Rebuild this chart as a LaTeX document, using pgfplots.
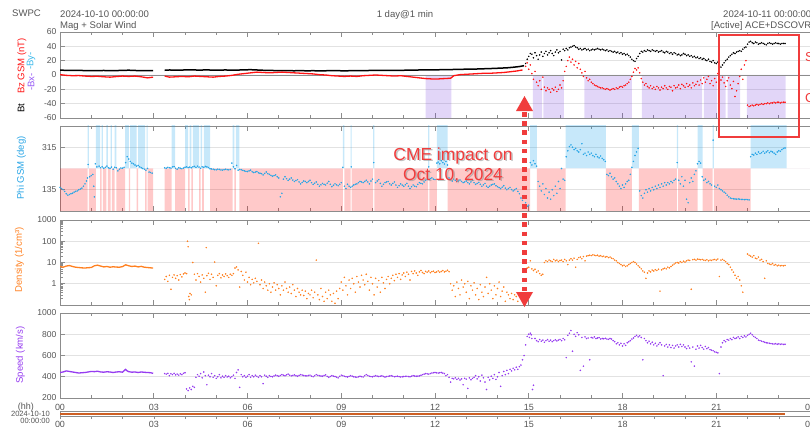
\documentclass[border=0pt]{standalone}
\usepackage{fontspec}
\setmainfont{Liberation Sans}
\usepackage{pgfplots}
\pgfplotsset{compat=1.18}
\definecolor{tickgray}{RGB}{85,85,85}
\definecolor{framegray}{RGB}{140,140,140}
\definecolor{gridgray}{RGB}{226,226,226}
\definecolor{bzred}{RGB}{255,20,20}
\definecolor{phiblue}{RGB}{40,165,230}
\definecolor{byblue}{RGB}{60,185,235}
\definecolor{bxpurple}{RGB}{150,90,245}
\definecolor{denorange}{RGB}{255,128,32}
\definecolor{spdpurple}{RGB}{150,60,240}
\definecolor{shpurple}{RGB}{125,70,225}
\definecolor{shblue}{RGB}{20,160,235}
\definecolor{shred}{RGB}{255,0,0}
\definecolor{annred}{RGB}{240,60,60}
\definecolor{tlorange}{RGB}{205,95,35}
\newcommand{\tf}{\fontsize{9.6}{11}\selectfont}
\pgfplotsset{
  panel/.style={
    scale only axis, width=750bp,
    xmin=0, xmax=24,
    xtick={0,3,...,24}, minor xtick={0,1,...,24},
    xticklabels={},
    xtick pos=both, ytick pos=left,
    tick align=inside,
    major tick length=5bp, minor tick length=3bp,
    tick style={framegray, line width=0.6bp},
    axis line style={framegray, line width=0.9bp},
    ymajorgrids, grid style={gridgray, line width=0.6bp},
    ticklabel style={font=\fontsize{8.6}{10}\selectfont, text=tickgray},
  },
  scat/.style={only marks, mark=*, mark size=0.55pt},
}
\begin{document}
\begin{tikzpicture}[x=1bp,y=1bp]
\useasboundingbox (0,0) rectangle (810,426);

% ---------------- Panel 1: Bt / Bz ----------------
\begin{axis}[panel, at={(60bp,308bp)}, anchor=south west, height=86bp,
  ymin=-60, ymax=60, ytick={-60,-40,-20,0,20,40,60},
  yticklabels={-60,-40,-20,0,20,40,60}]
\addplot[const plot, draw=none, fill=shpurple, fill opacity=0.22] coordinates {
(0,0) (11.70,-70) (12.52,0) (15.13,-70) (15.43,0) (15.47,-70) (16.12,0) (16.78,-70) (18.30,0)
(18.62,-70) (20.55,0) (20.60,-70) (21.02,0) (21.07,-70) (21.30,0) (21.36,-70) (21.76,0) (21.98,-70) (23.22,0) (24,0)};
\addplot[framegray, line width=0.8bp] coordinates {(0,0) (24,0)};
% Bt
\addplot[black, line width=1.5bp] coordinates {
(0,6.8)(0.2,6.5)(0.4,6.3)(0.6,6.4)(0.8,6.2)(1.0,6.0)(1.2,6.1)(1.4,6.3)(1.6,6.0)(1.8,6.2)(2.0,6.4)(2.2,6.7)(2.4,6.3)(2.6,6.1)(2.8,6.2)(2.98,6.0)};
\addplot[black, line width=1.5bp] coordinates {
(3.35,6.6)(3.5,7.0)(3.7,6.8)(3.9,6.9)(4.1,7.2)(4.3,7.0)(4.5,6.9)(4.7,7.1)(4.9,6.8)(5.1,6.9)(5.3,7.0)(5.5,6.8)(5.7,6.9)(5.9,7.2)(6.1,7.4)(6.3,7.0)(6.5,6.6)(6.7,6.4)(6.9,6.2)(7.1,6.1)(7.3,6.0)(7.5,5.9)(7.7,6.1)(7.9,5.8)(8.1,6.0)(8.3,5.7)(8.5,5.9)(8.7,6.1)(8.9,6.0)(9.1,5.8)(9.3,6.0)(9.5,6.2)(9.7,6.1)(9.9,6.3)(10.1,6.4)(10.3,6.3)(10.5,6.5)(10.7,6.6)(10.9,6.5)(11.1,6.7)(11.3,6.8)(11.5,7.0)(11.7,7.2)(11.9,7.1)(12.1,7.3)(12.3,7.4)(12.5,7.6)(12.7,7.8)(12.9,8.0)(13.1,8.2)(13.3,8.3)(13.5,8.6)(13.7,8.9)(13.9,9.2)(14.1,9.6)(14.3,10.0)(14.5,10.8)(14.7,11.8)(14.85,13)};
\addplot[scat, black] coordinates {
(14.9,16)(14.95,22)(15.0,26)(15.05,30)(15.1,29)(15.15,24)(15.2,31)(15.25,27)(15.3,22)(15.35,28)(15.4,32)(15.45,26)(15.5,30)(15.55,33)(15.6,28)(15.65,31)(15.7,34)(15.75,30)(15.8,27)(15.85,32)(15.9,35)(15.95,31)(16.0,33)(16.05,21)(16.1,36)(16.15,34)(16.2,37)(16.25,35)(16.3,38)(16.35,39)(16.4,40)(16.45,41)(16.5,39)(16.55,38)(16.6,36)(16.65,37)(16.7,35)(16.75,36)(16.8,37)(16.85,35)(16.9,36)(16.95,34)(17.0,35)(17.05,36)(17.1,35)(17.15,36)(17.2,37)(17.25,36)(17.3,35)(17.35,36)(17.4,35)(17.45,34)(17.5,35)(17.55,33)(17.6,34)(17.65,33)(17.7,32)(17.75,33)(17.8,31)(17.85,32)(17.9,30)(17.95,31)(18.0,29)(18.05,30)(18.1,28)(18.15,29)(18.2,27)(18.25,25)(18.3,22)(18.35,20)(18.4,19)(18.45,23)(18.5,26)(18.55,30)(18.6,33)(18.65,32)(18.7,34)(18.75,33)(18.8,35)(18.85,34)(18.9,33)(18.95,35)(19.0,34)(19.05,33)(19.1,34)(19.15,32)(19.2,33)(19.25,34)(19.3,32)(19.35,31)(19.4,33)(19.45,32)(19.5,30)(19.55,31)(19.6,29)(19.65,31)(19.7,30)(19.75,28)(19.8,29)(19.85,27)(19.9,28)(19.95,30)(20.0,29)(20.05,27)(20.1,28)(20.15,26)(20.2,27)(20.25,25)(20.3,26)(20.35,24)(20.4,25)(20.45,23)(20.5,24)(20.55,22)(20.6,23)(20.65,21)(20.7,20)(20.75,22)(20.8,19)(20.85,18)(20.9,20)(20.95,17)(21.0,16)(21.05,18)(21.1,13)(21.15,11)(21.2,14)(21.25,17)(21.3,20)(21.35,22)(21.4,25)(21.45,27)(21.5,29)(21.55,31)(21.6,30)(21.65,32)(21.7,33)(21.75,34)(21.8,33)(21.85,36)(21.9,38)(21.95,39)(22.0,43)(22.05,46)(22.1,47)(22.15,45)(22.2,44)(22.25,46)(22.3,45)(22.35,43)(22.4,44)(22.45,45)(22.5,44)(22.55,43)(22.6,42)(22.65,44)(22.7,45)(22.75,44)(22.8,43)(22.85,44)(22.9,45)(22.95,44)(23.0,44)(23.05,43)(23.1,44)(23.15,44)(23.2,44)};
% Bz
\addplot[bzred, line width=1.3bp] coordinates {
(0.0,0.5)(0.2,-0.5)(0.4,-1)(0.6,-0.8)(0.8,-1.5)(1.0,-2)(1.2,-1.8)(1.4,-2.5)(1.6,-3)(1.8,-2.2)(2.0,-1.5)(2.2,-2.0)(2.4,-1.5)(2.6,-2.5)(2.8,-4)(2.98,-3)};
\addplot[bzred, line width=1.3bp] coordinates {
(3.35,-1.5)(3.5,-3)(3.7,-2.5)(3.9,-2)(4.1,-2.5)(4.3,-1.5)(4.5,-2)(4.7,-2.5)(4.9,-3)(5.1,-2)(5.3,-1.5)(5.5,-0.5)(5.7,1)(5.9,2)(6.1,3)(6.3,4)(6.5,3.5)(6.7,3)(6.9,3.5)(7.1,4)(7.3,3.5)(7.5,3)(7.7,2.5)(7.9,2)(8.1,1.5)(8.3,0.5)(8.5,0)(8.7,-1)(8.9,-1.5)(9.1,-2)(9.3,-1.5)(9.5,-2)(9.7,-1)(9.9,-0.5)(10.1,0)(10.3,-0.5)(10.5,-1)(10.7,-1.5)(10.9,-1)(11.1,-2)(11.3,-3)(11.5,-4)(11.7,-5)(11.9,-5.5)(12.1,-5.5)(12.3,-5)(12.5,-4.5)(12.6,-1)(12.8,0.5)(13.0,1)(13.2,1.5)(13.4,2)(13.6,2.5)(13.8,2.5)(14.0,3)(14.2,3.5)(14.4,4.5)(14.6,5.5)(14.8,7)};
\addplot[scat, bzred] coordinates {
(14.9,12)(14.95,17)(15.0,8)(15.05,14)(15.1,2)(15.15,-6)(15.2,5)(15.25,-10)(15.3,-15)(15.35,-8)(15.4,-20)(15.45,-3)(15.5,-17)(15.55,-22)(15.6,-18)(15.65,-20)(15.7,-24)(15.75,-19)(15.8,-21)(15.85,-17)(15.9,-23)(15.95,-20)(16.0,-14)(16.05,-18)(16.1,-8)(16.15,5)(16.2,12)(16.25,20)(16.3,25)(16.35,18)(16.4,22)(16.45,14)(16.5,19)(16.55,10)(16.6,16)(16.65,8)(16.7,3)(16.75,-2)(16.8,5)(16.85,-4)(16.9,-8)(16.95,-6)(17.0,-10)(17.05,-12)(17.1,-14)(17.15,-15)(17.2,-16)(17.25,-17)(17.3,-18)(17.35,-18)(17.4,-19)(17.45,-20)(17.5,-19)(17.55,-20)(17.6,-21)(17.65,-20)(17.7,-19)(17.75,-20)(17.8,-18)(17.85,-19)(17.9,-17)(17.95,-16)(18.0,-17)(18.05,-15)(18.1,-14)(18.15,-12)(18.2,-10)(18.25,-6)(18.3,-2)(18.35,4)(18.4,9)(18.45,7)(18.5,10)(18.55,3)(18.6,-5)(18.65,-10)(18.7,-14)(18.75,-12)(18.8,-16)(18.85,-18)(18.9,-15)(18.95,-19)(19.0,-17)(19.05,-20)(19.1,-16)(19.15,-18)(19.2,-21)(19.25,-17)(19.3,-19)(19.35,-15)(19.4,-18)(19.45,-20)(19.5,-16)(19.55,-17)(19.6,-22)(19.65,-15)(19.7,-18)(19.75,-17)(19.8,-14)(19.85,-19)(19.9,-13)(19.95,-15)(20.0,-17)(20.05,-12)(20.1,-16)(20.15,-14)(20.2,-18)(20.25,-11)(20.3,-15)(20.35,-13)(20.4,-9)(20.45,-14)(20.5,-7)(20.55,-12)(20.6,-4)(20.65,-10)(20.7,-6)(20.75,-2)(20.8,-12)(20.85,-8)(20.9,-15)(20.95,-5)(21.0,-10)(21.05,2)(21.1,-13)(21.15,-7)(21.2,-3)(21.25,-11)(21.3,-16)(21.35,-8)(21.4,-4)(21.45,-14)(21.5,-19)(21.55,-9)(21.6,-30)(21.65,-22)(21.7,-12)(21.75,-2)(21.8,8)(21.85,-6)(21.9,14)(21.95,20)(22.0,-42)(22.05,-44)(22.1,-43)(22.15,-42)(22.2,-43)(22.25,-42)(22.3,-41)(22.35,-42)(22.4,-41)(22.45,-40)(22.5,-41)(22.55,-40)(22.6,-40)(22.65,-39)(22.7,-40)(22.75,-39)(22.8,-39)(22.85,-38)(22.9,-39)(22.95,-38)(23.0,-38)(23.05,-39)(23.1,-38)(23.15,-38)(23.2,-38)};
\end{axis}

% ---------------- Panel 2: Phi ----------------
\begin{axis}[panel, at={(60bp,215bp)}, anchor=south west, height=85bp,
  ymin=45, ymax=405, ytick={135,315}, yticklabels={135,315}]
\addplot[const plot, draw=none, fill=shred, fill opacity=0.21] coordinates {
(0,225)(0,30)(0.88,225)(0.92,30)(1.15,225)(1.28,30)(1.33,225)(1.37,30)(1.48,225)(1.53,30)(1.62,225)(1.66,30)(1.75,225)(1.8,30)(2.08,225)(2.2,30)(2.24,225)(2.45,30)(2.5,225)(2.72,30)(2.77,225)(2.8,30)(2.98,225)
(3.35,30)(3.57,225)(3.68,30)(4.0,225)(4.1,30)(4.15,225)(4.2,30)(4.25,225)(4.45,30)(4.5,225)(4.55,30)(4.6,225)(4.8,30)(5.52,225)(5.58,30)(5.63,225)(5.74,30)(9.05,225)(9.1,30)(9.3,225)(9.33,30)(10.02,225)(10.06,30)(11.78,225)(11.82,30)(12.06,225)(12.4,30)(15.04,225)(15.26,30)(16.18,225)(17.47,30)(18.3,225)(18.52,30)(19.74,225)(19.78,30)(20.4,225)(20.56,30)(20.88,225)(20.92,30)(22.1,225)(24,225)};
\addplot[const plot, draw=none, fill=shblue, fill opacity=0.24] coordinates {
(0,225)(0.88,420)(0.92,225)(1.15,420)(1.28,225)(1.33,420)(1.37,225)(1.48,420)(1.53,225)(1.62,420)(1.66,225)(1.75,420)(1.8,225)(2.08,420)(2.2,225)(2.24,420)(2.45,225)(2.5,420)(2.72,225)(2.77,420)(2.8,225)
(3.57,420)(3.68,225)(4.0,420)(4.1,225)(4.15,420)(4.2,225)(4.25,420)(4.45,225)(4.5,420)(4.55,225)(4.6,420)(4.8,225)(5.52,420)(5.58,225)(5.63,420)(5.74,225)(9.05,420)(9.1,225)(9.3,420)(9.33,225)(10.02,420)(10.06,225)(11.78,420)(11.82,225)(12.06,420)(12.4,225)(15.04,420)(15.26,225)(16.18,420)(17.47,225)(18.3,420)(18.52,225)(19.74,420)(19.78,225)(20.4,420)(20.56,225)(20.88,420)(20.92,225)(22.1,420)(23.25,225)(24,225)};
\addplot[scat, phiblue] coordinates {
(0.0,145)(0.05,140)(0.1,135)(0.15,128)(0.2,118)(0.25,112)(0.3,115)(0.35,118)(0.4,120)(0.45,125)(0.5,128)(0.55,130)(0.6,135)(0.65,138)(0.7,142)(0.75,150)(0.8,160)(0.85,172)(0.88,185)(0.9,242)(0.95,190)(1.0,195)(1.05,200)(1.08,150)(1.1,105)(1.13,245)(1.18,232)(1.25,235)(1.3,228)(1.35,232)(1.4,226)(1.45,230)(1.5,235)(1.55,228)(1.6,226)(1.65,231)(1.7,222)(1.75,230)(1.8,228)(1.85,215)(1.9,222)(1.95,227)(2.0,226)(2.05,230)(2.1,250)(2.15,275)(2.2,265)(2.25,255)(2.3,248)(2.35,245)(2.4,240)(2.45,235)(2.5,238)(2.55,232)(2.6,228)(2.65,225)(2.7,222)(2.75,218)(2.8,225)(2.85,210)(2.9,208)(2.95,205)
(3.35,228)(3.4,226)(3.45,230)(3.5,228)(3.55,227)(3.6,232)(3.65,233)(3.7,226)(3.75,222)(3.8,228)(3.85,226)(3.9,224)(3.95,227)(4.0,230)(4.05,232)(4.1,229)(4.15,231)(4.2,228)(4.25,232)(4.3,234)(4.35,230)(4.4,235)(4.45,231)(4.5,226)(4.55,232)(4.6,230)(4.65,234)(4.7,232)(4.75,229)(4.8,224)(4.85,223)(4.9,222)(4.95,220)(5.0,219)(5.05,222)(5.1,221)(5.15,219)(5.2,218)(5.25,220)(5.3,222)(5.35,220)(5.4,219)(5.45,221)(5.5,248)(5.55,232)(5.6,224)(5.65,238)(5.7,218)(5.75,221)(5.8,220)(5.85,217)(5.9,215)(5.95,213)(6.0,212)(6.05,215)(6.1,218)(6.15,211)(6.2,208)(6.25,210)(6.3,212)(6.35,207)(6.4,205)(6.45,203)(6.5,198)(6.55,204)(6.6,210)(6.65,203)(6.7,200)(6.75,196)(6.8,192)(6.85,195)(6.9,198)(6.95,190)(7.0,185)(7.05,105)(7.1,120)(7.15,180)(7.2,190)(7.25,182)(7.3,175)(7.35,180)(7.4,185)(7.45,176)(7.5,170)(7.55,174)(7.6,178)(7.65,168)(7.7,160)(7.75,166)(7.8,172)(7.85,170)(7.9,165)(7.95,170)(8.0,175)(8.05,165)(8.1,158)(8.15,163)(8.2,168)(8.25,158)(8.3,150)(8.35,156)(8.4,162)(8.45,158)(8.5,155)(8.55,163)(8.6,170)(8.65,158)(8.7,148)(8.75,154)(8.8,160)(8.85,156)(8.9,152)(8.95,158)(9.0,165)(9.05,230)(9.1,150)(9.15,140)(9.2,158)(9.25,150)(9.3,145)(9.32,232)(9.35,150)(9.4,155)(9.45,158)(9.5,160)(9.55,165)(9.6,170)(9.65,168)(9.7,165)(9.75,170)(9.8,175)(9.85,168)(9.9,160)(9.95,172)(10.0,180)(10.04,250)(10.1,165)(10.15,172)(10.2,178)(10.25,162)(10.3,150)(10.35,158)(10.4,165)(10.45,168)(10.5,170)(10.55,160)(10.6,155)(10.65,162)(10.7,168)(10.75,155)(10.8,145)(10.85,152)(10.9,160)(10.95,155)(11.0,150)(11.05,156)(11.1,162)(11.15,150)(11.2,140)(11.25,148)(11.3,155)(11.35,150)(11.4,148)(11.45,158)(11.5,165)(11.55,162)(11.6,160)(11.65,168)(11.7,175)(11.75,178)(11.8,232)(11.85,182)(11.9,185)(11.95,180)(12.0,178)(12.06,248)(12.1,252)(12.15,245)(12.2,258)(12.25,250)(12.3,244)(12.35,255)(12.4,240)(12.45,185)(12.5,178)(12.55,172)(12.6,180)(12.65,175)(12.7,170)(12.75,172)(12.8,176)(12.85,170)(12.9,165)(12.95,168)(13.0,172)(13.05,165)(13.1,160)(13.15,168)(13.2,175)(13.25,165)(13.3,158)(13.35,162)(13.4,166)(13.45,158)(13.5,150)(13.55,156)(13.6,162)(13.65,150)(13.7,145)(13.75,150)(13.8,155)(13.85,158)(13.9,160)(13.95,152)(14.0,148)(14.05,144)(14.1,140)(14.15,146)(14.2,152)(14.25,142)(14.3,135)(14.35,140)(14.4,145)(14.45,136)(14.5,130)(14.55,135)(14.6,140)(14.65,128)(14.7,118)(14.75,100)(14.8,90)(14.85,110)(14.9,80)(14.95,65)(15.0,70)(15.05,250)(15.1,240)(15.15,258)(15.2,245)(15.25,235)(15.3,170)(15.35,150)(15.4,130)(15.45,160)(15.5,115)(15.55,140)(15.6,100)(15.65,125)(15.7,95)(15.75,135)(15.8,110)(15.85,150)(15.9,120)(15.95,170)(16.0,140)(16.05,225)(16.1,180)(16.15,175)
(16.2,275)(16.25,300)(16.3,318)(16.35,325)(16.4,315)(16.45,305)(16.5,310)(16.55,300)(16.6,295)(16.65,305)(16.7,330)(16.75,285)(16.8,290)(16.85,280)(16.9,295)(16.95,285)(17.0,290)(17.05,280)(17.1,275)(17.15,285)(17.2,275)(17.25,270)(17.3,278)(17.35,268)(17.4,262)(17.45,255)
(17.5,200)(17.55,195)(17.6,205)(17.65,190)(17.7,180)(17.75,185)(17.8,170)(17.85,160)(17.9,150)(17.95,140)(18.0,155)(18.05,145)(18.1,160)(18.15,170)(18.2,175)(18.25,200)(18.3,230)(18.35,255)(18.4,280)(18.45,295)(18.5,310)(18.55,130)(18.6,110)(18.65,100)(18.7,120)(18.75,135)(18.8,125)(18.85,140)(18.9,130)(18.95,145)(19.0,135)(19.05,150)(19.1,140)(19.15,155)(19.2,145)(19.25,160)(19.3,150)(19.35,165)(19.4,155)(19.45,165)(19.5,160)(19.55,170)(19.6,165)(19.65,175)(19.7,180)(19.75,250)(19.8,175)(19.85,160)(19.9,190)(19.95,150)(20.0,175)(20.05,95)(20.1,80)(20.15,165)(20.2,185)(20.25,170)(20.3,200)(20.35,215)(20.4,245)(20.45,255)(20.5,248)(20.55,190)(20.6,175)(20.65,180)(20.7,165)(20.75,170)(20.8,160)(20.85,155)(20.9,345)(20.95,150)(21.0,145)(21.05,155)(21.1,140)(21.15,135)(21.2,130)(21.25,125)(21.3,120)(21.35,112)(21.4,105)(21.45,100)(21.5,98)(21.55,97)(21.6,96)(21.65,95)(21.7,96)(21.75,95)(21.8,94)(21.85,94)(21.9,93)(21.95,94)(22.0,93)(22.05,92)
(22.1,275)(22.15,285)(22.2,282)(22.25,290)(22.3,285)(22.35,295)(22.4,288)(22.45,292)(22.5,298)(22.55,290)(22.6,295)(22.65,300)(22.7,292)(22.75,298)(22.8,295)(22.85,290)(22.9,285)(22.95,295)(23.0,300)(23.05,298)(23.1,305)(23.15,310)(23.2,312)};
\end{axis}

% ---------------- Panel 3: Density ----------------
\begin{axis}[panel, at={(60bp,121bp)}, anchor=south west, height=85bp,
  ymode=log, ymin=0.1, ymax=1000, ytick={1,10,100,1000}, yticklabels={1,10,100,1000},
  minor ytick={0.2,0.3,0.4,0.5,0.6,0.7,0.8,0.9,2,3,4,5,6,7,8,9,20,30,40,50,60,70,80,90,200,300,400,500,600,700,800,900}]
\addplot[denorange, line width=1.3bp] coordinates {
(0.0,6.5)(0.1,6.0)(0.2,6.8)(0.3,7.2)(0.4,6.5)(0.5,6.0)(0.6,5.8)(0.7,5.6)(0.8,5.5)(0.9,5.7)(1.0,5.8)(1.1,7.0)(1.2,7.5)(1.3,6.8)(1.4,6.2)(1.5,6.5)(1.6,6.0)(1.7,6.3)(1.8,6.1)(1.9,6.0)(2.0,6.4)(2.1,7.8)(2.2,7.0)(2.3,6.5)(2.4,6.8)(2.5,6.2)(2.6,6.6)(2.7,6.0)(2.8,5.8)(2.9,5.6)(2.98,5.5)};
\addplot[scat, denorange] coordinates {
(3.35,1.6)(3.4,2.2)(3.45,1.3)(3.5,2.5)(3.55,0.55)(3.6,2.0)(3.65,2.6)(3.7,1.8)(3.75,2.4)(3.8,1.5)(3.85,2.7)(3.9,2.1)(3.95,2.9)(4.0,3.2)(4.05,3.0)(4.08,100)(4.1,55)(4.12,0.25)(4.14,0.18)(4.16,0.35)(4.2,0.3)(4.25,10)(4.3,2.8)(4.35,1.5)(4.4,3.0)(4.45,2.2)(4.5,1.2)(4.55,2.6)(4.6,1.8)(4.65,0.4)(4.68,50)(4.7,2.4)(4.75,3.1)(4.8,1.6)(4.85,2.8)(4.9,2.0)(4.95,10.5)(5.0,0.8)(5.05,2.5)(5.1,3.0)(5.15,1.9)(5.2,2.6)(5.25,2.2)(5.3,2.9)(5.35,2.4)(5.4,2.0)(5.45,2.8)(5.5,2.5)(5.55,3.0)(5.6,5.5)(5.65,6.2)(5.7,4.5)(5.75,0.7)(5.8,3.8)(5.85,2.5)(5.9,1.5)(5.95,3.5)(6.0,1.2)(6.05,2.0)(6.1,0.9)(6.15,1.6)(6.2,1.1)(6.25,1.8)(6.3,1.3)(6.35,80)(6.4,0.9)(6.45,1.5)(6.5,0.6)(6.55,1.2)(6.6,0.8)(6.65,0.5)(6.7,1.0)(6.75,0.4)(6.8,0.7)(6.85,1.1)(6.9,0.5)(6.95,0.9)(7.0,0.6)(7.05,0.3)(7.1,0.8)(7.15,0.5)(7.2,1.2)(7.25,0.6)(7.3,0.4)(7.35,0.7)(7.4,0.35)(7.45,0.9)(7.5,0.5)(7.55,0.25)(7.6,0.6)(7.65,0.4)(7.7,0.3)(7.75,0.5)(7.8,0.28)(7.85,0.45)(7.9,0.2)(7.95,0.35)(8.0,0.3)(8.05,0.5)(8.1,0.22)(8.15,0.4)(8.2,13)(8.25,0.3)(8.3,0.18)(8.35,0.6)(8.4,0.25)(8.45,0.15)(8.5,0.4)(8.55,0.2)(8.6,0.5)(8.65,0.3)(8.7,0.15)(8.75,0.35)(8.8,0.12)(8.85,0.45)(8.9,0.2)(8.95,0.6)(9.0,1.2)(9.05,0.5)(9.1,2.0)(9.15,0.8)(9.2,0.3)(9.25,1.5)(9.3,0.6)(9.35,1.8)(9.4,1.0)(9.45,0.4)(9.5,2.2)(9.55,1.2)(9.6,0.7)(9.65,2.5)(9.7,1.5)(9.75,0.9)(9.8,2.8)(9.85,1.3)(9.9,0.5)(9.95,2.0)(10.0,1.0)(10.05,0.3)(10.1,1.8)(10.15,0.7)(10.2,1.4)(10.25,0.4)(10.3,2.0)(10.35,1.1)(10.4,0.6)(10.45,1.6)(10.5,2.2)(10.55,1.0)(10.6,1.8)(10.65,2.5)(10.7,1.4)(10.75,2.8)(10.8,2.0)(10.85,3.0)(10.9,1.6)(10.95,2.6)(11.0,3.2)(11.05,2.2)(11.1,3.5)(11.15,2.8)(11.2,1.5)(11.25,3.8)(11.3,3.0)(11.35,4.0)(11.4,3.2)(11.45,2.5)(11.5,3.6)(11.55,4.2)(11.6,3.4)(11.65,3.0)(11.7,3.8)(11.75,3.5)(11.8,4.0)(11.85,3.3)(11.9,3.7)(11.95,3.9)(12.0,3.4)(12.05,3.6)(12.1,4.0)(12.15,3.5)(12.2,3.8)(12.25,4.2)(12.3,3.6)(12.35,3.9)(12.4,4.3)(12.45,3.7)(12.5,1.0)(12.55,0.5)(12.6,0.8)(12.65,0.25)(12.7,1.2)(12.75,0.6)(12.8,0.3)(12.85,1.5)(12.9,0.7)(12.95,1.0)(13.0,0.4)(13.05,1.3)(13.1,0.2)(13.15,0.8)(13.2,0.5)(13.25,1.1)(13.3,0.3)(13.35,0.6)(13.4,0.18)(13.45,0.9)(13.5,0.4)(13.55,0.25)(13.6,0.7)(13.65,2.0)(13.7,0.35)(13.75,1.0)(13.8,0.5)(13.85,0.2)(13.9,0.8)(13.95,0.3)(14.0,0.6)(14.05,1.2)(14.1,0.25)(14.15,0.45)(14.2,0.7)(14.25,0.15)(14.3,0.4)(14.35,0.3)(14.4,0.2)(14.45,0.35)(14.5,0.18)(14.55,0.3)(14.6,0.25)(14.65,0.15)(14.7,0.3)(14.75,0.2)(14.8,0.28)(14.85,0.16)(14.9,4.5)(14.95,5.5)(15.0,6.0)(15.05,12)(15.1,5.0)(15.15,4.2)(15.2,4.8)(15.25,3.5)(15.3,4.0)(15.35,3.0)(15.4,2.5)(15.45,2.8)(15.5,10)(15.55,12)(15.6,11)(15.65,13)(15.7,12)(15.75,11)(15.8,14)(15.85,12)(15.9,13)(15.95,11)(16.0,12.5)(16.05,13)(16.1,11)(16.15,14)(16.2,12)(16.25,8)(16.3,13)(16.35,15)(16.4,13)(16.45,16)(16.5,6)(16.55,14)(16.6,17)(16.65,18)(16.7,15)(16.75,19)(16.8,12)(16.85,20)(16.9,21)(16.95,22)(17.0,21)(17.05,23)(17.1,22)(17.15,21)(17.2,22)(17.25,20)(17.3,21)(17.35,19)(17.4,20)(17.45,18)(17.5,19)(17.55,17)(17.6,18)(17.65,16)(17.7,15)(17.75,13)(17.8,12)(17.85,10)(17.9,9)(17.95,8)(18.0,7)(18.05,7.5)(18.1,6.5)(18.15,7)(18.2,8)(18.25,9)(18.3,10)(18.35,11)(18.4,10)(18.45,8.5)(18.5,7)(18.55,6)(18.6,5)(18.65,4)(18.7,3.5)(18.75,1.8)(18.8,3.2)(18.85,4.0)(18.9,3.6)(18.95,4.4)(19.0,4.0)(19.05,4.6)(19.1,4.2)(19.15,4.8)(19.2,0.45)(19.25,4.5)(19.3,5.0)(19.35,5.4)(19.4,5.0)(19.45,6.0)(19.5,5.6)(19.55,6.5)(19.6,7.5)(19.65,8.5)(19.7,9.5)(19.75,10)(19.8,9.5)(19.85,11)(19.9,10)(19.95,11.5)(20.0,10.5)(20.05,12)(20.1,13)(20.15,12.5)(20.2,0.55)(20.25,13.5)(20.3,14)(20.35,13)(20.4,14.5)(20.45,14)(20.5,13.5)(20.55,14)(20.6,13)(20.65,12.5)(20.7,13.5)(20.75,12)(20.8,13)(20.85,12.5)(20.9,13.5)(20.95,14)(21.0,13)(21.05,14.5)(21.1,2.2)(21.15,13)(21.2,14)(21.25,12.5)(21.3,11)(21.35,9)(21.4,8)(21.45,6)(21.5,4.5)(21.55,3.5)(21.6,2.5)(21.65,1.8)(21.7,2.2)(21.75,1.5)(21.8,0.8)(21.85,0.4)(22.0,25)(22.05,22)(22.1,20)(22.15,18)(22.2,21)(22.25,16)(22.3,15)(22.35,18)(22.4,13)(22.45,14)(22.5,11)(22.55,1.8)(22.6,12)(22.65,9)(22.7,8.5)(22.75,8)(22.8,9)(22.85,7.5)(22.9,8)(22.95,7)(23.0,7.5)(23.05,7)(23.1,7.2)(23.15,7.0)(23.2,7.3)};
\end{axis}

% ---------------- Panel 4: Speed ----------------
\begin{axis}[panel, at={(60bp,28bp)}, anchor=south west, height=85bp,
  ymin=200, ymax=1000, ytick={200,400,600,800,1000}, yticklabels={200,400,600,800,1000},
  xticklabels={00,03,06,09,12,15,18,21,00}, xticklabel pos=lower,
  xticklabel style={yshift=-3bp, font=\fontsize{9}{10}\selectfont}]
\addplot[spdpurple, line width=1.3bp] coordinates {
(0.0,440)(0.1,445)(0.2,455)(0.3,450)(0.4,445)(0.5,440)(0.6,435)(0.7,438)(0.8,440)(0.9,445)(1.0,450)(1.1,448)(1.2,452)(1.3,445)(1.4,443)(1.5,447)(1.6,445)(1.7,440)(1.8,445)(1.9,447)(2.0,443)(2.1,470)(2.15,455)(2.2,448)(2.3,443)(2.4,445)(2.5,440)(2.6,445)(2.7,442)(2.8,440)(2.9,438)(2.98,432)};
\addplot[scat, spdpurple] coordinates {
(3.35,430)(3.4,425)(3.45,432)(3.5,410)(3.55,428)(3.6,420)(3.65,432)(3.7,418)(3.75,425)(3.8,415)(3.85,428)(3.9,420)(3.95,432)(4.0,438)(4.05,285)(4.1,270)(4.15,295)(4.2,280)(4.25,310)(4.3,300)(4.35,395)(4.4,420)(4.45,405)(4.5,430)(4.55,390)(4.6,445)(4.65,410)(4.7,325)(4.75,415)(4.8,400)(4.85,430)(4.9,395)(4.95,410)(5.0,385)(5.05,400)(5.1,420)(5.15,390)(5.2,405)(5.25,395)(5.3,410)(5.35,398)(5.4,405)(5.45,390)(5.5,400)(5.55,415)(5.6,385)(5.65,440)(5.7,465)(5.75,300)(5.8,420)(5.85,400)(5.9,410)(5.95,395)(6.0,405)(6.05,420)(6.1,395)(6.15,410)(6.2,400)(6.25,415)(6.3,405)(6.35,395)(6.4,410)(6.45,400)(6.5,335)(6.55,415)(6.6,405)(6.65,395)(6.7,410)(6.75,403)(6.8,400)(6.85,408)(6.9,415)(6.95,410)(7.0,405)(7.05,412)(7.1,420)(7.15,414)(7.2,410)(7.25,418)(7.3,425)(7.35,415)(7.4,408)(7.45,412)(7.5,418)(7.55,410)(7.6,405)(7.65,413)(7.7,420)(7.75,416)(7.8,412)(7.85,409)(7.9,408)(7.95,412)(8.0,415)(8.05,406)(8.1,400)(8.15,410)(8.2,420)(8.25,414)(8.3,410)(8.35,407)(8.4,405)(8.45,412)(8.5,418)(8.55,404)(8.6,395)(8.65,403)(8.7,410)(8.75,406)(8.8,402)(8.85,396)(8.9,390)(8.95,404)(9.0,415)(9.05,410)(9.1,405)(9.15,401)(9.2,398)(9.25,404)(9.3,410)(9.35,405)(9.4,400)(9.45,397)(9.5,395)(9.55,400)(9.6,405)(9.65,401)(9.7,398)(9.75,410)(9.8,420)(9.85,412)(9.9,405)(9.95,402)(10.0,400)(10.05,405)(10.1,410)(10.15,406)(10.2,402)(10.25,405)(10.3,408)(10.35,403)(10.4,398)(10.45,402)(10.5,405)(10.55,407)(10.6,410)(10.65,405)(10.7,400)(10.75,403)(10.8,405)(10.85,401)(10.9,398)(10.95,400)(11.0,402)(11.05,404)(11.1,405)(11.15,402)(11.2,400)(11.25,405)(11.3,410)(11.35,407)(11.4,405)(11.45,406)(11.5,408)(11.55,414)(11.6,420)(11.65,425)(11.7,430)(11.75,428)(11.8,425)(11.85,430)(11.9,435)(11.95,438)(12.0,440)(12.05,437)(12.1,435)(12.15,438)(12.2,440)(12.25,435)(12.3,430)(12.35,410)(12.4,420)(12.45,395)(12.5,350)(12.55,385)(12.6,380)(12.65,390)(12.7,375)(12.75,385)(12.8,370)(12.85,380)(12.9,325)(12.95,385)(13.0,378)(13.05,290)(13.1,390)(13.15,372)(13.2,385)(13.25,395)(13.3,410)(13.35,380)(13.4,400)(13.45,360)(13.5,415)(13.55,390)(13.6,350)(13.65,280)(13.7,395)(13.75,370)(13.8,405)(13.85,385)(13.9,420)(13.95,375)(14.0,400)(14.05,440)(14.1,310)(14.15,410)(14.2,450)(14.25,420)(14.3,460)(14.35,430)(14.4,470)(14.45,455)(14.5,480)(14.55,465)(14.6,490)(14.65,470)(14.7,495)(14.75,510)(14.8,560)(14.85,600)(14.9,700)(14.95,780)(15.0,800)(15.02,770)(15.05,810)(15.08,795)(15.1,760)(15.12,280)(15.15,320)(15.2,760)(15.25,740)(15.3,730)(15.35,750)(15.4,735)(15.45,745)(15.5,725)(15.55,740)(15.6,750)(15.65,735)(15.7,745)(15.75,730)(15.8,740)(15.85,748)(15.9,738)(15.95,745)(16.0,752)(16.05,740)(16.1,760)(16.15,748)(16.2,580)(16.25,790)(16.3,810)(16.35,835)(16.4,640)(16.45,800)(16.5,780)(16.55,815)(16.6,795)(16.65,460)(16.7,770)(16.75,500)(16.8,775)(16.85,760)(16.9,765)(16.95,560)(17.0,770)(17.05,765)(17.1,775)(17.15,760)(17.2,765)(17.25,768)(17.3,755)(17.35,760)(17.4,758)(17.45,762)(17.5,755)(17.55,752)(17.6,760)(17.65,755)(17.7,740)(17.75,730)(17.8,710)(17.85,720)(17.9,700)(17.95,715)(18.0,690)(18.05,710)(18.1,695)(18.15,720)(18.2,730)(18.25,740)(18.3,755)(18.35,765)(18.4,780)(18.45,790)(18.5,775)(18.55,785)(18.6,770)(18.65,560)(18.7,760)(18.75,740)(18.8,720)(18.85,735)(18.9,710)(18.95,725)(19.0,700)(19.05,715)(19.1,690)(19.15,705)(19.2,720)(19.25,700)(19.3,410)(19.35,690)(19.4,705)(19.45,680)(19.5,700)(19.55,675)(19.6,695)(19.65,670)(19.7,690)(19.75,700)(19.8,680)(19.85,705)(19.9,685)(19.95,700)(20.0,680)(20.05,665)(20.1,690)(20.15,670)(20.2,540)(20.25,680)(20.3,500)(20.35,660)(20.4,690)(20.45,670)(20.5,695)(20.55,675)(20.6,660)(20.65,685)(20.7,665)(20.75,675)(20.8,655)(20.85,650)(20.9,645)(20.95,635)(21.0,630)(21.05,625)(21.1,430)(21.15,680)(21.2,720)(21.25,740)(21.3,730)(21.35,750)(21.4,745)(21.45,760)(21.5,750)(21.55,770)(21.6,760)(21.65,765)(21.7,775)(21.75,760)(21.8,780)(21.85,770)(21.9,785)(21.95,775)(22.0,790)(22.05,800)(22.1,810)(22.15,795)(22.2,780)(22.25,770)(22.3,760)(22.35,745)(22.4,740)(22.45,735)(22.5,730)(22.55,725)(22.6,720)(22.65,718)(22.7,715)(22.75,712)(22.8,710)(22.85,708)(22.9,712)(22.95,706)(23.0,710)(23.05,705)(23.1,708)(23.15,704)(23.2,706)};
\end{axis}

% ---------------- Time line strip ----------------
\begin{axis}[scale only axis, width=750bp, height=5.5bp, at={(60bp,9.5bp)}, anchor=south west,
  xmin=0, xmax=24, ymin=0, ymax=1, ytick=\empty,
  xtick={0,3,...,24}, minor xtick={0,1,...,24}, xticklabels={00,03,06,09,12,15,18,21,00},
  xtick pos=lower, tick align=outside, major tick length=2.5bp, minor tick length=2.5bp,
  tick style={framegray, line width=0.5bp},
  axis line style={framegray, line width=0.6bp},
  xticklabel style={font=\fontsize{9}{10}\selectfont, text=tickgray, yshift=1bp}]
\addplot[tlorange, line width=1.5bp] coordinates {(0,0.5) (23.2,0.5)};
\end{axis}

% ---------------- Texts ----------------
\begin{scope}[every node/.style={inner sep=0pt, text=tickgray, font=\tf}]
\node[anchor=base west] at (12,409) {SWPC};
\node[anchor=base west] at (60,408) {2024-10-10 00:00:00};
\node[anchor=base west] at (60,397.5) {Mag + Solar Wind};
\node[anchor=base] at (405,408) {1 day@1 min};
\node[anchor=base west] at (723,408) {2024-10-11 00:00:00};
\node[anchor=base west] at (711,397.5) {[Active] ACE+DSCOVR};
\node[anchor=base east, font=\fontsize{9}{10}\selectfont] at (34,17) {(hh)};
\node[anchor=base east, font=\fontsize{7.6}{9}\selectfont] at (50,9.5) {2024-10-10};
\node[anchor=base east, font=\fontsize{7.6}{9}\selectfont] at (50,2.5) {00:00:00};
\end{scope}
\begin{scope}[every node/.style={inner sep=0pt, font=\tf, rotate=90}]
\node[text=black] at (21,318) {Bt};
\node[text=bzred] at (22,360) {Bz GSM (nT)};
\node[text=bxpurple] at (31,344) {-Bx-};
\node[text=byblue] at (31,365) {-By-};
\node[text=phiblue] at (21.5,258) {Phi GSM (deg)};
\node[text=denorange] at (19.5,166) {Density (1/cm³)};
\node[text=spdpurple] at (20.5,71) {Speed (km/s)};
\end{scope}

% ---------------- Annotations ----------------
\draw[annred, line width=2bp] (719,391) rectangle (799,289);
\node[anchor=base west, inner sep=0pt, text=annred, font=\fontsize{13}{15}\selectfont] at (805,365) {S};
\node[anchor=base west, inner sep=0pt, text=annred, font=\fontsize{13}{15}\selectfont] at (805,324) {C};
\fill[annred] (516,315) -- (533,315) -- (524.5,330) -- cycle;
\draw[annred, line width=5bp, dash pattern=on 4.6bp off 4.6bp] (524.5,314) -- (524.5,134);
\fill[annred] (516,134) -- (533,134) -- (524.5,119) -- cycle;
\begin{scope}[every node/.style={inner sep=0pt, anchor=base, font=\fontsize{17.5}{20}\selectfont}]
\node[text=black!40, opacity=0.6] at (454.5,264.5) {CME impact on};
\node[text=annred] at (453,266) {CME impact on};
\node[text=black!40, opacity=0.6] at (454.5,244.5) {Oct 10, 2024};
\node[text=annred] at (453,246) {Oct 10, 2024};
\end{scope}
\end{tikzpicture}
\end{document}
